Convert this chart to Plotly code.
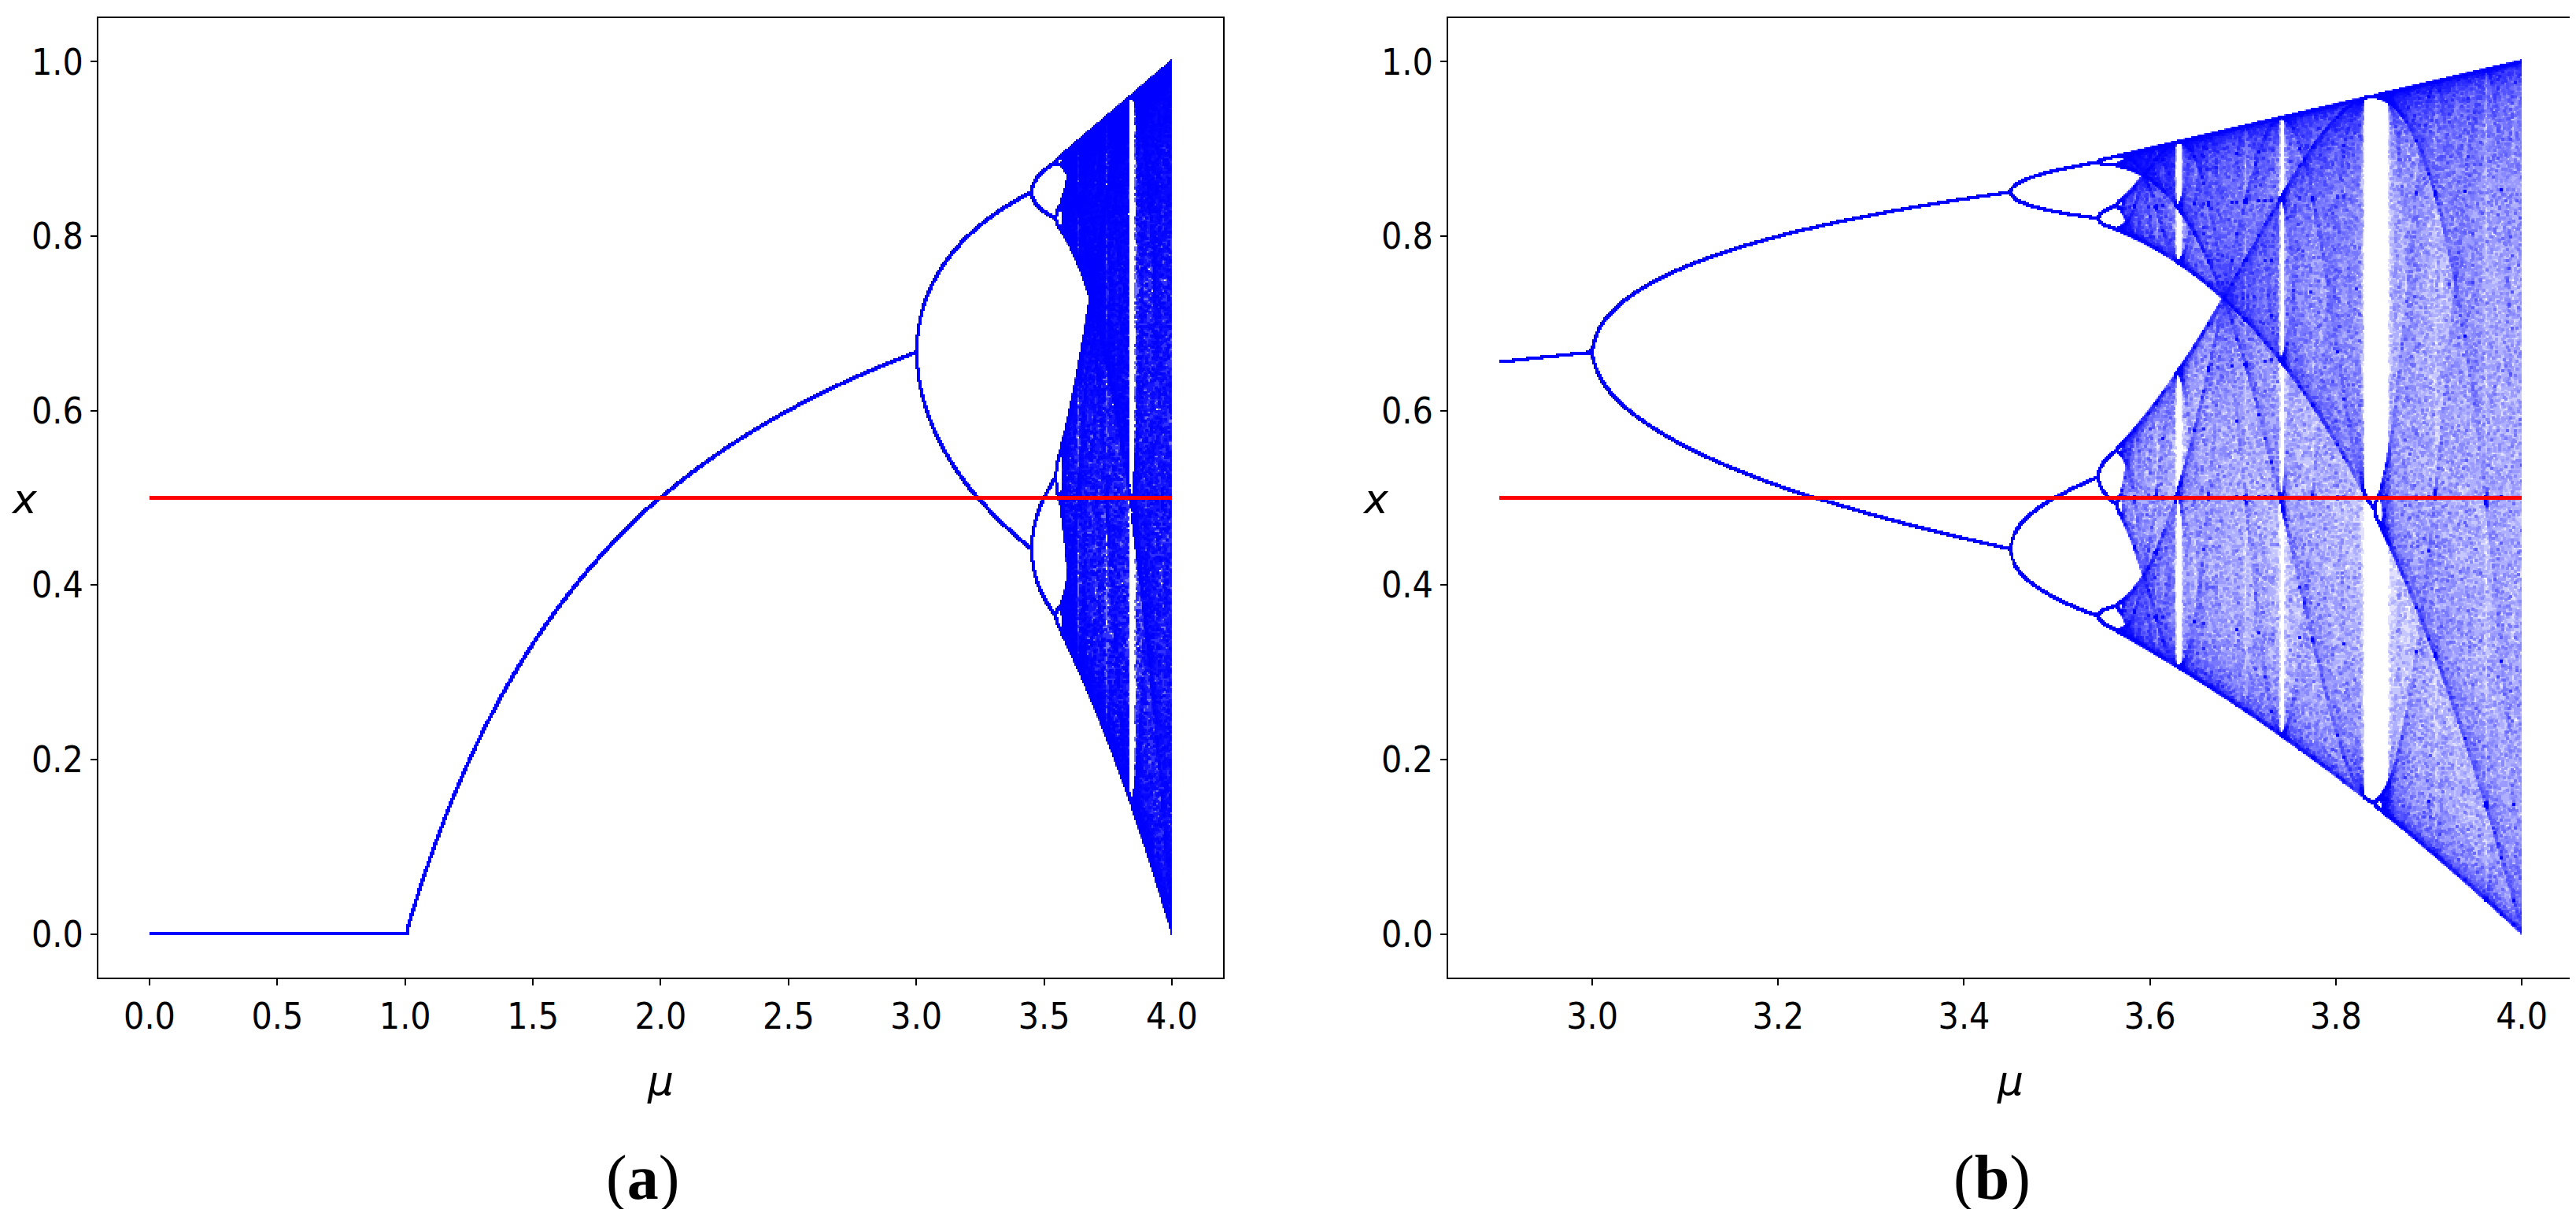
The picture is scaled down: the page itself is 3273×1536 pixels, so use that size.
import numpy as np
import plotly.graph_objects as go

# logistic map x_{n+1} = mu * x_n * (1 - x_n); the two panels only differ in mu span
MU_SPAN_A = [0.0, 4.0]
MU_SPAN_B = [2.9, 4.0]
X_START = 1e-5
N_TRANSIENT = 1000
N_KEEP = 200
THRESHOLD_X = 0.5

X_TICKS_A = [0.0, 0.5, 1.0, 1.5, 2.0, 2.5, 3.0, 3.5, 4.0]
X_TICKS_B = [3.0, 3.2, 3.4, 3.6, 3.8, 4.0]
Y_TICKS = [0.0, 0.2, 0.4, 0.6, 0.8, 1.0]
X_LABEL = "μ"
Y_LABEL = "x"
CAPTIONS = ["(<b>a</b>)", "(<b>b</b>)"]

X_RANGE_A = [-0.2, 4.2]
X_RANGE_B = [2.845, 4.055]
Y_RANGE = [-0.05, 1.05]

W, H = 3273, 1536
L, R, T, B = 117, 12, 15, 302
NX, NY, PER_COL = 650, 610, 8
TICK_FONT = dict(family="Liberation Sans Narrow, DejaVu Sans Condensed, Roboto Condensed, Liberation Sans",
                 size=46, color="black")


def density(mu_span, k):
    mu = np.linspace(mu_span[0], mu_span[1], NX * PER_COL)
    x = np.full_like(mu, X_START)
    for _ in range(N_TRANSIENT):
        x = mu * x * (1 - x)
    mus, xs = [], []
    for _ in range(N_KEEP):
        x = mu * x * (1 - x)
        mus.append(mu)
        xs.append(x.copy())
    counts, ex, ey = np.histogram2d(np.concatenate(mus), np.concatenate(xs),
                                    bins=[NX, NY], range=[mu_span, Y_RANGE])
    z = 1 - np.exp(-counts.T / k)
    # thicken the marks a little, like the upscaled original
    zz = z.copy()
    zz[1:, :] = np.maximum(zz[1:, :], z[:-1, :])
    zz[:, 1:] = np.maximum(zz[:, 1:], z[:, :-1])
    zz[1:, 1:] = np.maximum(zz[1:, 1:], z[:-1, :-1])
    return (ex[:-1] + ex[1:]) / 2, (ey[:-1] + ey[1:]) / 2, zz.astype(np.float32)


def px(xp):
    return (xp - L) / (W - L - R)


def py(yp):
    return (H - B - yp) / (H - T - B)


fig = go.Figure()
panels = [(MU_SPAN_A, 1.2, "x", "y"), (MU_SPAN_B, 8.0, "x2", "y2")]
for span, k, xa, ya in panels:
    cx, cy, z = density(span, k)
    fig.add_trace(go.Heatmap(x=cx, y=cy, z=z, zmin=0, zmax=1,
                             colorscale=[[0, "white"], [1, "blue"]],
                             showscale=False, hoverinfo="skip", xaxis=xa, yaxis=ya))
    fig.add_trace(go.Scatter(x=span, y=[THRESHOLD_X, THRESHOLD_X], mode="lines",
                             line=dict(color="red", width=5), xaxis=xa, yaxis=ya,
                             showlegend=False))

axis_style = dict(showline=True, linecolor="black", linewidth=2, mirror=True,
                  ticks="outside", ticklen=8, tickwidth=2, tickcolor="black",
                  showgrid=False, zeroline=False, tickfont=TICK_FONT, automargin=False)

fig.update_layout(
    width=W, height=H, template="none", paper_bgcolor="white", plot_bgcolor="white",
    margin=dict(l=L, r=R, t=T, b=B), showlegend=False,
    xaxis=dict(domain=[0, 0.4545], range=X_RANGE_A, tickvals=X_TICKS_A,
               ticktext=[f"{v:.1f}" for v in X_TICKS_A], **axis_style),
    yaxis=dict(domain=[0, 1], range=Y_RANGE, tickvals=Y_TICKS,
               ticktext=[f"{v:.1f}" for v in Y_TICKS], **axis_style),
    xaxis2=dict(domain=[0.5455, 1], range=X_RANGE_B, tickvals=X_TICKS_B,
                ticktext=[f"{v:.1f}" for v in X_TICKS_B], anchor="y2", **axis_style),
    yaxis2=dict(domain=[0, 1], range=Y_RANGE, tickvals=Y_TICKS,
                ticktext=[f"{v:.1f}" for v in Y_TICKS], anchor="x2", **axis_style),
)

label_font = dict(family="DejaVu Sans", size=52, color="black")
cap_font = dict(family="Liberation Serif", size=80, color="black")
notes = [
    (23, 626, f"<i>{Y_LABEL}</i>", label_font),
    (1740, 626, f"<i>{Y_LABEL}</i>", label_font),
    (831, 1365, f"<i>{X_LABEL}</i>", label_font),
    (2546, 1365, f"<i>{X_LABEL}</i>", label_font),
    (808, 1488, CAPTIONS[0], cap_font),
    (2523, 1488, CAPTIONS[1], cap_font),
]
for xp, yp, text, font in notes:
    fig.add_annotation(x=px(xp), y=py(yp), xref="paper", yref="paper", text=text,
                       showarrow=False, xanchor="center", yanchor="middle", font=font)

fig.write_html("out.html")
